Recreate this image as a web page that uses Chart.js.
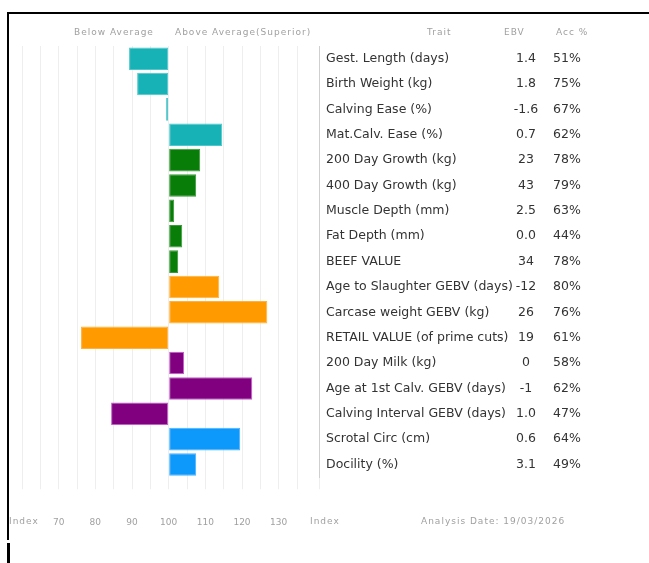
<!DOCTYPE html>
<html>
<head>
<meta charset="utf-8">
<script src="https://cdn.jsdelivr.net/npm/chart.js@4"></script>
<style>
  body { margin: 0; background: #fff; font-family: "DejaVu Sans", sans-serif; }
  #wrap { position: relative; width: 649px; height: 563px; overflow: hidden; }
  #frameTop { position: absolute; left: 7px; top: 12px; width: 642px; height: 2px; background: #000; }
  #frameLeft { position: absolute; left: 7px; top: 12px; width: 2px; height: 528px; background: #000; }
  #frameStub { position: absolute; left: 7px; top: 543px; width: 3px; height: 20px; background: #000; }
  .lbl { position: absolute; font-size: 9px; letter-spacing: 1px; color: #a0a0a0; white-space: nowrap; }
  #chartBox { position: absolute; left: 0; top: 0; width: 649px; height: 563px; }
</style>
</head>
<body>
<div id="wrap">
  <div id="chartBox"><canvas id="ebvChart"></canvas></div>
  <div id="frameTop"></div>
  <div id="frameLeft"></div>
  <div id="frameStub"></div>
  <div class="lbl" style="left:74px; top:27px;">Below Average</div>
  <div class="lbl" style="left:175px; top:27px;">Above Average(Superior)</div>
  <div class="lbl" style="left:427px; top:27px;">Trait</div>
  <div class="lbl" style="left:504px; top:27px;">EBV</div>
  <div class="lbl" style="left:556px; top:27px;">Acc %</div>
  <div class="lbl" style="left:9px; top:516px;">Index</div>
  <div class="lbl" style="left:310px; top:516px;">Index</div>
  <div class="lbl" style="left:421px; top:516px;">Analysis Date: 19/03/2026</div>
</div>
<script>
// --- DATA ---
const traits = [
  "Gest. Length (days)", "Birth Weight (kg)", "Calving Ease (%)", "Mat.Calv. Ease (%)",
  "200 Day Growth (kg)", "400 Day Growth (kg)", "Muscle Depth (mm)", "Fat Depth (mm)",
  "BEEF VALUE", "Age to Slaughter GEBV (days)", "Carcase weight GEBV (kg)",
  "RETAIL VALUE (of prime cuts)", "200 Day Milk (kg)", "Age at 1st Calv. GEBV (days)",
  "Calving Interval GEBV (days)", "Scrotal Circ (cm)", "Docility (%)"
];
const ebvValues = ["1.4", "1.8", "-1.6", "0.7", "23", "43", "2.5", "0.0", "34", "-12", "26", "19", "0", "-1", "1.0", "0.6", "3.1"];
const accValues = ["51%", "75%", "67%", "62%", "78%", "79%", "63%", "44%", "78%", "80%", "76%", "61%", "58%", "62%", "47%", "64%", "49%"];
// bar index values (100 = breed average)
const indexValues = [89.2, 91.4, 99.3, 114.6, 108.6, 107.5, 101.5, 103.7, 102.6, 113.8, 126.9, 76.1, 104.2, 122.8, 84.3, 119.5, 107.5];
const groupOf = [0, 0, 0, 0, 1, 1, 1, 1, 1, 2, 2, 2, 3, 3, 3, 4, 4];
const groupColors = ["#17b2b6", "#087d08", "#ff9b00", "#800080", "#0d98fb"];
const groupEdges = ["#4cc7cb", "#3a9a3a", "#ffb23a", "#c25ec8", "#4ab2ff"];
const bottomTicks = [70, 80, 90, 100, 110, 120, 130];

// --- TABLE PLUGIN: draws trait / EBV / Acc columns on the row positions ---
const tablePlugin = {
  id: 'traitTable',
  afterDraw(chart) {
    const ctx = chart.ctx;
    const yScale = chart.scales.y;
    ctx.save();
    ctx.font = '12.5px "DejaVu Sans", sans-serif';
    ctx.fillStyle = '#333333';
    ctx.textBaseline = 'middle';
    traits.forEach((t, i) => {
      const y = yScale.getPixelForValue(i);
      ctx.textAlign = 'left';
      ctx.fillText(t, 326, y);
      ctx.textAlign = 'center';
      ctx.fillText(ebvValues[i], 526, y);
      ctx.fillText(accValues[i], 567, y);
    });
    ctx.restore();
  }
};

const ctx = document.getElementById('ebvChart').getContext('2d');
new Chart(ctx, {
  type: 'bar',
  data: {
    labels: traits,
    datasets: [{
      data: indexValues,
      base: 100,
      backgroundColor: groupOf.map(g => groupColors[g]),
      borderColor: groupOf.map(g => groupEdges[g]),
      borderWidth: 1,
      borderSkipped: false,
      barPercentage: 0.89,
      categoryPercentage: 1.0
    }]
  },
  options: {
    indexAxis: 'y',
    responsive: true,
    maintainAspectRatio: false,
    animation: false,
    layout: { padding: { left: 22, top: 46, right: 322, bottom: 7 } },
    plugins: { legend: { display: false }, tooltip: { enabled: false } },
    scales: {
      x: {
        min: 60, max: 141,
        // tick padding would otherwise also widen the side margins
        afterFit: (scale) => { scale.paddingLeft = 0; scale.paddingRight = 0; },
        ticks: {
          stepSize: 5,
          padding: 28,
          maxRotation: 0,
          autoSkip: false,
          color: '#a0a0a0',
          font: { size: 9, family: '"DejaVu Sans", sans-serif' },
          callback: (v) => bottomTicks.includes(v) ? String(v) : ''
        },
        grid: { color: '#eeeeee', tickLength: 12, drawTicks: true },
        border: { display: false }
      },
      y: {
        position: 'right',
        ticks: { display: false },
        grid: { display: false },
        border: { display: true, color: '#cfcfcf', dash: [1, 2] }
      }
    }
  },
  plugins: [tablePlugin]
});
</script>
</body>
</html>
